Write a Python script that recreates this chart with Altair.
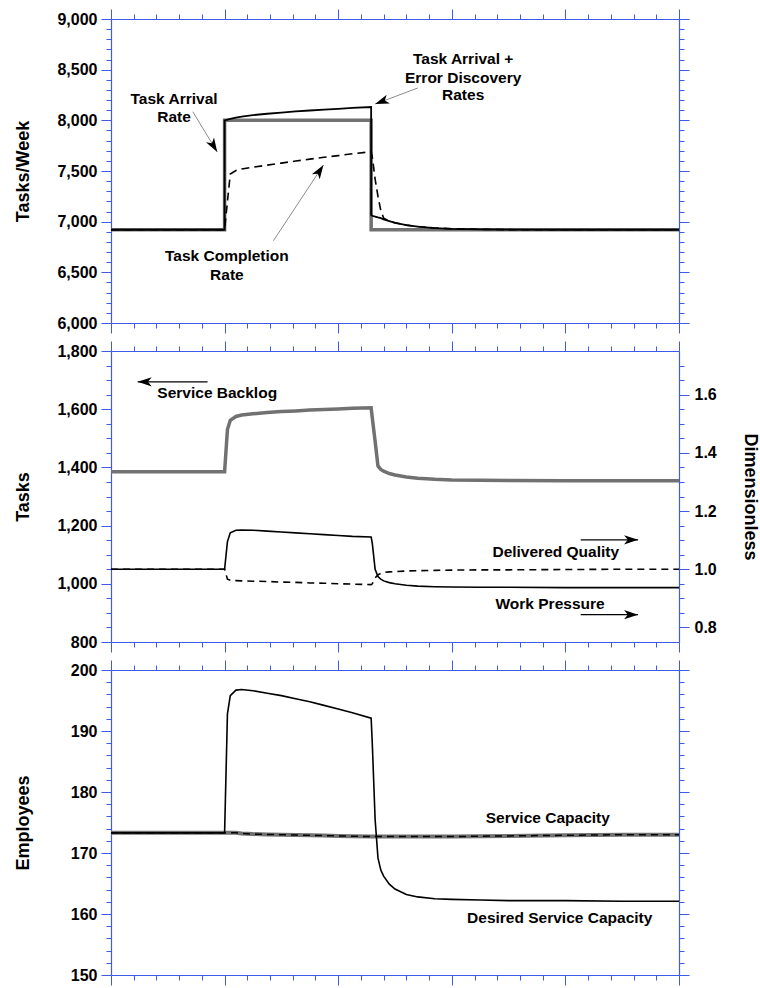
import altair as alt
import pandas as pd

# Simulation time in weeks; a repeated instant marks a step change
weeks = [0, 20, 20, 20.5, 21, 22, 23, 25, 27.5, 30, 32.5, 35, 37.5, 40, 42.5, 45.8, 45.8,
         46, 46.5, 47, 47.5, 48, 49, 50, 52, 54, 57, 60, 65, 70, 80, 90, 100]

# Tasks/Week
task_arrival = [6920, 6920] + [8000] * 14 + [6920] * 17
arrival_plus_errors = [6920, 6920, 8000, 8008, 8015, 8027, 8037, 8052, 8065, 8077, 8088, 8097,
                       8106, 8114, 8122, 8131, 7065, 7058, 7050, 7042, 7035, 7022, 7005, 6988,
                       6965, 6951, 6937, 6929, 6923, 6921, 6920, 6920, 6920]
task_completion = [6920, 6920, 6920, 7200, 7470, 7505, 7520, 7538, 7558, 7578, 7598, 7617,
                   7635, 7652, 7670, 7690, 7690, 7640, 7420, 7250, 7110, 7035, 7007, 6989,
                   6966, 6952, 6938, 6930, 6924, 6921, 6920, 6920, 6920]

# Tasks (left) and dimensionless ratios (right)
service_backlog = [1385, 1385, 1385, 1530, 1562, 1575, 1580, 1584, 1589, 1592, 1594, 1597,
                   1599, 1601, 1603, 1605, 1605, 1570, 1490, 1405, 1393, 1387, 1379, 1374,
                   1367, 1363, 1359, 1357, 1356, 1355, 1354, 1354, 1354]
work_pressure = [1.0, 1.0, 1.0, 1.095, 1.125, 1.134, 1.135, 1.134, 1.131, 1.128, 1.125, 1.122,
                 1.119, 1.116, 1.113, 1.111, 1.111, 1.09, 1.0, 0.975, 0.966, 0.960, 0.954, 0.950,
                 0.945, 0.942, 0.940, 0.939, 0.938, 0.938, 0.937, 0.937, 0.937]
delivered_quality = [1.0, 1.0, 1.0, 0.966, 0.962, 0.961, 0.960, 0.959, 0.958, 0.956, 0.955, 0.953,
                     0.952, 0.950, 0.949, 0.947, 0.947, 0.950, 0.970, 0.981, 0.986, 0.989, 0.991,
                     0.992, 0.994, 0.995, 0.996, 0.997, 0.998, 0.998, 0.999, 1.0, 1.0]

# Employees
desired_capacity = [173.3, 173.3, 173.3, 192.8, 195.8, 196.7, 196.8, 196.6, 196.2, 195.8, 195.3,
                    194.8, 194.2, 193.6, 193.0, 192.1, 192.1, 188.0, 175.5, 169.2, 167.2, 166.2,
                    164.9, 164.1, 163.2, 162.8, 162.5, 162.4, 162.3, 162.2, 162.2, 162.1, 162.1]
service_capacity = [173.3, 173.3, 173.3, 173.3, 173.3, 173.3, 173.2, 173.1, 173.05, 173.0, 172.95,
                    172.9, 172.85, 172.8, 172.75, 172.7, 172.7, 172.7, 172.7, 172.7, 172.7, 172.7,
                    172.7, 172.7, 172.7, 172.7, 172.7, 172.7, 172.75, 172.8, 172.9, 173.0, 173.0]

# Annotations
top_labels = ["Task Arrival", "Rate", "Task Completion", "Rate",
              "Task Arrival +", "Error Discovery", "Rates"]
top_label_t = [11.1, 11.1, 20.4, 20.4, 62.0, 62.0, 62.0]
top_label_v = [8210, 8033, 6661, 6474, 8602, 8421, 8247]
top_arrow_from_t = [14.4, 28.6, 54.0]
top_arrow_from_v = [8085, 6812, 8319]
top_arrow_to_t = [18.7, 37.4, 46.5]
top_arrow_to_v = [7688, 7559, 8161]
top_arrow_angle = [149, 33, 250]

mid_labels = ["Service Backlog", "Delivered Quality", "Work Pressure"]
mid_label_t = [18.7, 78.3, 77.3]
mid_label_v = [1654, 1110, 931]
mid_arrow_from_t = [17.0, 82.7, 82.7]
mid_arrow_to_t = [4.7, 92.8, 92.8]
mid_arrow_v = [1694, 1151, 894]
mid_arrow_angle = [270, 90, 90]

bot_labels = ["Service Capacity", "Desired Service Capacity"]
bot_label_t = [76.9, 79.0]
bot_label_v = [175.8, 159.4]

BLUE = "#3d5ae8"
GRAY = "#717171"
FONT = "Liberation Sans"
ARROW = "M0,0 L0.5,1.5 L0,1.1 L-0.5,1.5 Z"
W = 568

x_scale = alt.Scale(domain=[0, 100], nice=False, zero=False)
X_MAJOR = list(range(0, 101, 20))
X_MINOR = [v for v in range(4, 100, 4) if v % 20]

LABELS = {"labels": True, "labelFont": FONT, "labelFontSize": 16, "labelFontWeight": "bold",
          "labelColor": "black", "labelPadding": 4}
TITLES = {"titleFont": FONT, "titleFontSize": 18, "titleFontWeight": "bold",
          "titleColor": "black"}


def steps(lo, hi, step, skip):
    n = int(round((hi - lo) / step))
    vals = [round(lo + k * step, 4) for k in range(n + 1)]
    return [v for v in vals if all(abs(v - s) > 1e-9 for s in skip)]


def yscale(dom):
    return alt.Scale(domain=dom, nice=False, zero=False)


def axis(orient, values, size, **extra):
    props = dict(orient=orient, values=values, tickSize=size, tickColor=BLUE, tickWidth=1,
                 domain=False, domainColor=BLUE, domainWidth=1.2, grid=False, labels=False,
                 title="", minExtent=0, maxExtent=size)
    props.update(extra)
    return alt.Axis(**props)


def labelled(**extra):
    props = {**LABELS, **TITLES}
    props.update(extra)
    return props


def guide(y_dom, x_axis, y_axis):
    box = pd.DataFrame({"t": [0, 100], "v": y_dom})
    return alt.Chart(box).mark_point(opacity=0).encode(
        x=alt.X("t:Q", scale=x_scale, axis=x_axis),
        y=alt.Y("v:Q", scale=yscale(y_dom), axis=y_axis),
    )


def frame(left_dom, left_major, left_minor, left_extra, right_dom, right_major, right_minor,
          right_extra):
    return [
        guide(left_dom, axis("bottom", X_MAJOR, 10, domain=True),
              axis("left", left_major, 10, domain=True, **left_extra)),
        guide(left_dom, axis("bottom", X_MINOR, 5), axis("left", left_minor, 5)),
        guide(right_dom, axis("top", X_MAJOR, 10, domain=True),
              axis("right", right_major, 10, domain=True, **right_extra)),
        guide(right_dom, axis("top", X_MINOR, 5), axis("right", right_minor, 5)),
    ]


def trace(df, col, dom, **style):
    return alt.Chart(df).mark_line(**style).encode(
        x=alt.X("t:Q", scale=x_scale, axis=None),
        y=alt.Y(f"{col}:Q", scale=yscale(dom), axis=None),
        order="i:Q",
    )


def notes(df, dom):
    return alt.Chart(df).mark_text(font=FONT, fontSize=15.5, fontWeight="bold",
                                   color="black").encode(
        x=alt.X("t:Q", scale=x_scale, axis=None),
        y=alt.Y("v:Q", scale=yscale(dom), axis=None),
        text="label:N",
    )


def arrows(df, dom, color, width):
    shaft = alt.Chart(df).mark_rule(color=color, strokeWidth=width).encode(
        x=alt.X("t0:Q", scale=x_scale, axis=None), x2="t1:Q",
        y=alt.Y("v0:Q", scale=yscale(dom), axis=None), y2="v1:Q",
    )
    head = alt.Chart(df).mark_point(shape=ARROW, filled=True, size=350, color="black",
                                    opacity=1, strokeWidth=0).encode(
        x=alt.X("t1:Q", scale=x_scale, axis=None),
        y=alt.Y("v1:Q", scale=yscale(dom), axis=None),
        angle=alt.Angle("ang:Q", scale=None),
    )
    return [shaft, head]


def panel(layers, h):
    return (alt.layer(*layers)
            .resolve_scale(y="independent")
            .resolve_axis(x="independent", y="independent")
            .properties(width=W, height=h))


n = len(weeks)
series = pd.DataFrame({
    "i": list(range(n)), "t": weeks,
    "arrival": task_arrival, "arrival_err": arrival_plus_errors, "completion": task_completion,
    "backlog": service_backlog, "pressure": work_pressure, "quality": delivered_quality,
    "desired": desired_capacity, "capacity": service_capacity,
})

# ---- Tasks/Week panel
TOP = [6000, 9000]
top_major = list(range(6000, 9001, 500))
top_minor = [v for v in range(6100, 9000, 100) if v % 500]
top_notes = pd.DataFrame({"label": top_labels, "t": top_label_t, "v": top_label_v})
top_arrows = pd.DataFrame({"t0": top_arrow_from_t, "v0": top_arrow_from_v,
                           "t1": top_arrow_to_t, "v1": top_arrow_to_v, "ang": top_arrow_angle})
top = panel(
    frame(TOP, top_major, top_minor,
          labelled(title="Tasks/Week", format=",d", minExtent=56, maxExtent=56,
                   titlePadding=23),
          TOP, top_major, top_minor, {})
    + [
        trace(series, "arrival", TOP, color=GRAY, strokeWidth=3.5),
        trace(series, "arrival_err", TOP, color="black", strokeWidth=1.8),
        trace(series, "completion", TOP, color="black", strokeWidth=1.6, strokeDash=[8, 5]),
        notes(top_notes, TOP),
    ]
    + arrows(top_arrows, TOP, "#8c8c8c", 1),
    304,
)

# ---- Tasks / Dimensionless panel
MID = [800, 1800]
RATIO = [0.75, 1.75]
mid_major = list(range(800, 1801, 200))
mid_minor = [v for v in range(850, 1800, 50) if v % 200]
ratio_major = [0.8, 1.0, 1.2, 1.4, 1.6]
ratio_minor = steps(0.8, 1.7, 0.05, ratio_major)
mid_notes = pd.DataFrame({"label": mid_labels, "t": mid_label_t, "v": mid_label_v})
mid_arrows = pd.DataFrame({"t0": mid_arrow_from_t, "v0": mid_arrow_v,
                           "t1": mid_arrow_to_t, "v1": mid_arrow_v, "ang": mid_arrow_angle})
mid = panel(
    frame(MID, mid_major, mid_minor,
          labelled(title="Tasks", format=",d", minExtent=56, maxExtent=56, titlePadding=23),
          RATIO, ratio_major, ratio_minor,
          labelled(title="Dimensionless", format=".1f", labelPadding=5,
                   minExtent=37, maxExtent=37, titlePadding=24))
    + [
        trace(series, "backlog", MID, color=GRAY, strokeWidth=3.5),
        trace(series, "pressure", RATIO, color="black", strokeWidth=1.6),
        trace(series, "quality", RATIO, color="black", strokeWidth=1.6, strokeDash=[7, 5]),
        notes(mid_notes, MID),
    ]
    + arrows(mid_arrows, MID, "black", 1.3),
    291,
)

# ---- Employees panel
BOT = [150, 200]
bot_major = list(range(150, 201, 10))
bot_minor = [v for v in range(152, 200, 2) if v % 10]
bot_notes = pd.DataFrame({"label": bot_labels, "t": bot_label_t, "v": bot_label_v})
bottom = panel(
    frame(BOT, bot_major, bot_minor,
          labelled(title="Employees", format="d", minExtent=56, maxExtent=56,
                   titlePadding=23),
          BOT, bot_major, bot_minor, {})
    + [
        trace(series, "capacity", BOT, color=GRAY, strokeWidth=4),
        trace(series, "capacity", BOT, color="black", strokeWidth=1.5, strokeDash=[7, 5]),
        trace(series, "desired", BOT, color="black", strokeWidth=1.6),
        notes(bot_notes, BOT),
    ],
    305,
)

lower = alt.vconcat(mid, bottom, spacing=6)
chart = (
    alt.vconcat(top, lower, spacing=6)
    .properties(padding={"left": 13, "top": 8, "right": 0, "bottom": 0}, background="white")
    .configure_view(stroke="transparent")
)

chart.save("out.html", embed_options={"renderer": "svg", "actions": False})
